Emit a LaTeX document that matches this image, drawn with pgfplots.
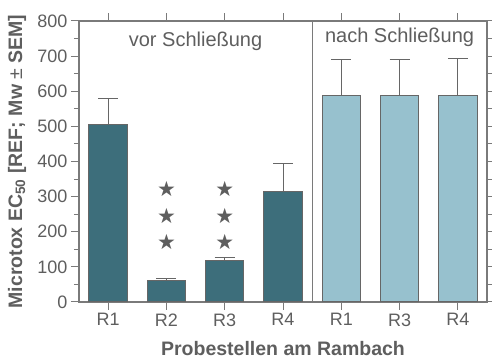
\documentclass[border=0pt]{standalone}
\usepackage{pgfplots}
\pgfplotsset{compat=1.18}
\usepackage{fontspec}
\setmainfont{Liberation Sans}
\newfontfamily\symfont{DejaVu Sans}
\definecolor{darkbar}{HTML}{3D6E7B}
\definecolor{lightbar}{HTML}{97C1CE}
\definecolor{edge}{HTML}{666666}
\definecolor{axisgray}{HTML}{7A7A7A}
\definecolor{txt}{HTML}{5E5E5E}
\begin{document}
\begin{tikzpicture}
\begin{axis}[
  scale only axis, width=408pt, height=281pt,
  xmin=-0.5, xmax=6.5, ymin=0, ymax=800,
  xtick={0,1,2,3,4,5,6},
  xticklabels={R1,R2,R3,R4,R1,R3,R4},
  ytick={0,100,...,800}, minor y tick num=1,
  tick align=outside, tick pos=left,
  major tick length=8pt, minor tick length=5pt,
  axis line style={draw=axisgray, line width=1.2pt},
  tick style={draw=axisgray, line width=1pt},
  /pgf/number format/assume math mode=true,
  ticklabel style={font=\fontsize{18}{20}\selectfont, text=txt},
  xlabel={Probestellen am Rambach},
  ylabel={Microtox EC\textsubscript{50} [REF; Mw {\mdseries±} SEM]},
  every axis x label/.style={at={(axis description cs:0.5,-0.164)}, anchor=center, font=\fontsize{19.5}{22}\selectfont\bfseries, text=txt},
  every axis y label/.style={at={(axis description cs:-0.152,0.5)}, rotate=90, anchor=center, font=\fontsize{19.5}{22}\selectfont\bfseries, text=txt},
  clip=false,
]
\addplot[ybar, bar shift=0pt, bar width=0.66, fill=darkbar, draw=edge, line width=1pt,
  error bars/.cd, y dir=plus, y explicit,
  error bar style={edge, line width=1pt},
  error mark options={edge, line width=1pt, mark size=10pt, rotate=90}]
  coordinates {(0,504) +- (0,76) (1,61) +- (0,6) (2,117) +- (0,10) (3,314) +- (0,79)};
\addplot[ybar, bar shift=0pt, bar width=0.66, fill=lightbar, draw=edge, line width=1pt,
  error bars/.cd, y dir=plus, y explicit,
  error bar style={edge, line width=1pt},
  error mark options={edge, line width=1pt, mark size=10pt, rotate=90}]
  coordinates {(4,587) +- (0,104) (5,588) +- (0,103) (6,588) +- (0,104)};
\addplot[axisgray, line width=1.2pt, mark=none] coordinates {(3.5,0) (3.5,800)};
\addplot[draw=none, mark=none, nodes near coords={\symfont\fontsize{21}{21}\selectfont ★},
  nodes near coords align=center, every node near coord/.style={text=txt, anchor=center}]
  coordinates {(1,322) (1,244) (1,170) (2,322) (2,244) (2,170)};
\node[font=\fontsize{20}{22}\selectfont, text=txt] at (axis cs:1.5,743) {vor Schließung};
\node[font=\fontsize{20}{22}\selectfont, text=txt] at (axis cs:5,753) {nach Schließung};
\pgfplotsinvokeforeach{0,1,2,3,4,5,6}{
  \draw[axisgray, line width=1pt] (axis cs:#1,800) -- ++(0pt,8pt);
}
\pgfplotsinvokeforeach{0,100,200,300,400,500,600,700,800}{
  \draw[axisgray, line width=1pt] (axis cs:6.5,#1) -- ++(8pt,0pt);
}
\pgfplotsinvokeforeach{50,150,250,350,450,550,650,750}{
  \draw[axisgray, line width=1pt] (axis cs:6.5,#1) -- ++(5pt,0pt);
}
\end{axis}
\pgfresetboundingbox
\path[use as bounding box] ([shift={(-79pt,-58pt)}]current axis.south west) rectangle ([shift={(5pt,21pt)}]current axis.north east);
\end{tikzpicture}
\end{document}
